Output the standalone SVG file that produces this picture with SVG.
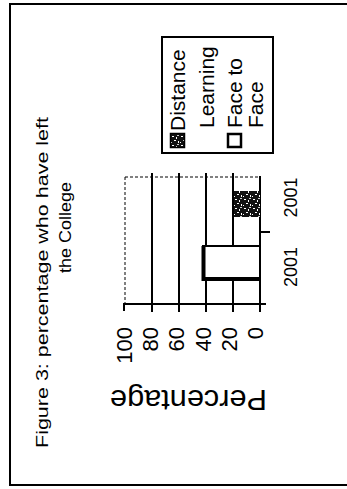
<svg xmlns="http://www.w3.org/2000/svg" width="347" height="489" viewBox="0 0 347 489">
<style>
.t{font-family:"Liberation Sans",Arial,sans-serif;fill:#000}
.ln{stroke:#000;stroke-width:2;fill:none}
.grid{stroke:#000;stroke-width:2}
.dot{stroke:#000;stroke-width:1;stroke-dasharray:3 2}
</style>
<defs>
<pattern id="stip" width="9" height="9" patternUnits="userSpaceOnUse">
<rect width="9" height="9" fill="#111"/>
<rect x="1" y="1" width="2" height="1" fill="#fff"/>
<rect x="5" y="2" width="1" height="2" fill="#fff"/>
<rect x="3" y="5" width="2" height="1" fill="#fff"/>
<rect x="7" y="6" width="1" height="2" fill="#fff"/>
<rect x="0" y="7" width="1" height="1" fill="#fff"/>
<rect x="6" y="0" width="2" height="1" fill="#ccc"/>
</pattern>
</defs>
<rect width="347" height="489" fill="#fff"/>
<g id="frame">
<line class="ln" x1="10" y1="3" x2="10" y2="486" stroke-width="3"/>
<line class="ln" x1="9" y1="4" x2="347" y2="4"/>
<line class="ln" x1="9" y1="485" x2="347" y2="485"/>
</g>
<g id="title" class="t" font-size="16">
<text transform="translate(48,448) rotate(-90)" textLength="331" lengthAdjust="spacingAndGlyphs">Figure 3: percentage who have left</text>
<text transform="translate(71,273) rotate(-90)" textLength="91" lengthAdjust="spacingAndGlyphs">the College</text>
</g>
<g id="plot">
<line class="dot" x1="125" y1="177" x2="260" y2="177"/>
<line class="dot" x1="125" y1="177" x2="125" y2="304"/>
<line class="grid" x1="152" y1="173" x2="152" y2="304"/>
<line class="grid" x1="179" y1="173" x2="179" y2="304"/>
<line class="grid" x1="206" y1="173" x2="206" y2="304"/>
<line class="grid" x1="233" y1="173" x2="233" y2="304"/>
<line class="grid" x1="260" y1="176" x2="260" y2="304"/>
</g>
<g id="bars">
<rect x="203" y="246" width="57" height="33" fill="#fff" stroke="#000" stroke-width="2"/>
<line x1="203.5" y1="246" x2="203.5" y2="281" stroke="#000" stroke-width="4"/>
<line x1="202" y1="279" x2="260" y2="279" stroke="#000" stroke-width="4"/>
<rect x="234" y="191" width="26" height="26" fill="url(#stip)"/>
</g>
<g id="axes">
<line class="ln" x1="123" y1="304" x2="266" y2="304"/>
<line class="ln" x1="124" y1="303" x2="124" y2="311"/>
<line class="ln" x1="152" y1="301" x2="152" y2="312"/>
<line class="ln" x1="179" y1="301" x2="179" y2="312"/>
<line class="ln" x1="206" y1="301" x2="206" y2="312"/>
<line class="ln" x1="233" y1="301" x2="233" y2="312"/>
<line class="ln" x1="260" y1="301" x2="260" y2="312"/>
<line class="ln" x1="260" y1="232" x2="270" y2="232"/>
</g>
<g id="value-labels" class="t" font-size="22" text-anchor="end">
<text transform="translate(132,327) rotate(-90)">100</text>
<text transform="translate(158,327) rotate(-90)">80</text>
<text transform="translate(184,327) rotate(-90)">60</text>
<text transform="translate(211,327) rotate(-90)">40</text>
<text transform="translate(237,327) rotate(-90)">20</text>
<text transform="translate(263,327) rotate(-90)">0</text>
</g>
<g id="category-labels" class="t" font-size="18" text-anchor="middle">
<text transform="translate(297,267) rotate(-90)">2001</text>
<text transform="translate(297,197.5) rotate(-90)">2001</text>
</g>
<g id="axis-title" class="t" font-size="30">
<text transform="translate(267,390) rotate(180)" textLength="157" lengthAdjust="spacingAndGlyphs">Percentage</text>
</g>
<g id="legend">
<rect x="162" y="37" width="111" height="116" fill="#fff" stroke="#000" stroke-width="2"/>
<rect x="170.5" y="133.5" width="14" height="14" fill="url(#stip)" stroke="#000" stroke-width="1.5"/>
<rect x="228" y="134" width="13" height="13" fill="#fff" stroke="#000" stroke-width="2.5"/>
<g class="t" font-size="21">
<text transform="translate(185,131) rotate(-90)">Distance</text>
<text transform="translate(214,128) rotate(-90)">Learning</text>
<text transform="translate(242,128) rotate(-90)">Face to</text>
<text transform="translate(263,128) rotate(-90)">Face</text>
</g>
</g>
</svg>
